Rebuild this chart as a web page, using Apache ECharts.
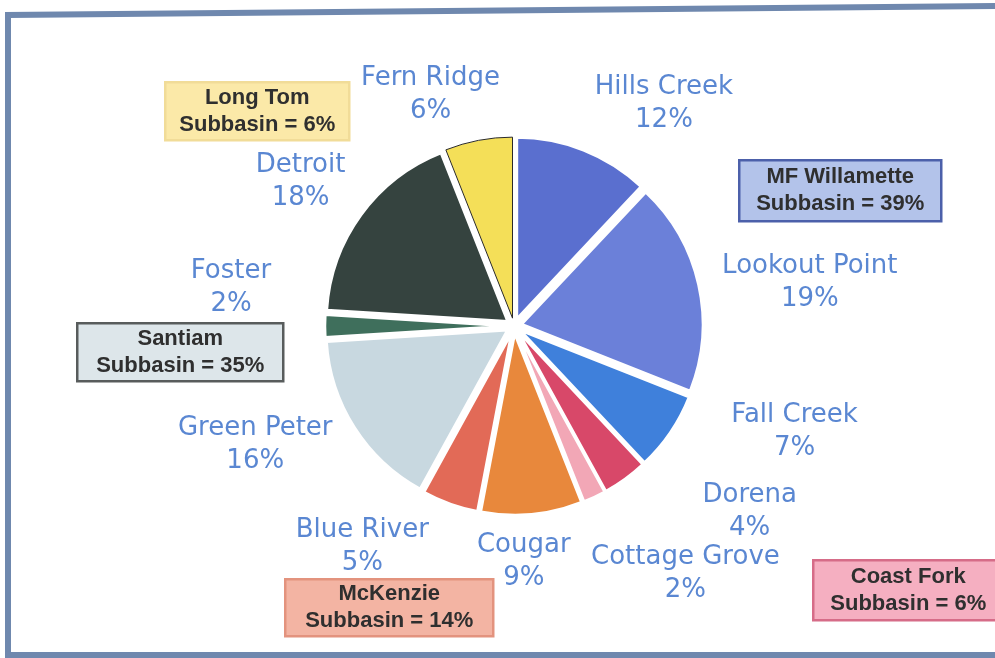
<!DOCTYPE html>
<html>
<head>
<meta charset="utf-8">
<script src="https://cdn.jsdelivr.net/npm/echarts@6/dist/echarts.min.js"></script>
<style>
  html, body { margin: 0; padding: 0; background: #fff; }
  #chart { width: 995px; height: 658px; }
</style>
</head>
<body>
<div id="chart"></div>
<script>
  // reservoirs, clockwise from 12 o'clock
  let reservoirs = ['Hills Creek', 'Lookout Point', 'Fall Creek', 'Dorena', 'Cottage Grove',
    'Cougar', 'Blue River', 'Green Peter', 'Foster', 'Detroit', 'Fern Ridge'];
  let shares = [12, 19, 7, 4, 2, 9, 5, 16, 2, 18, 6];
  let sliceColors = ['#5a6fcf', '#6b80d9', '#3f80db', '#d84869', '#f2a7b6',
    '#e8883c', '#e26a57', '#c8d8e0', '#3f6f5c', '#35433f', '#f4df58'];

  let subbasins = ['Long Tom', 'MF Willamette', 'Santiam', 'McKenzie', 'Coast Fork'];
  let subbasinShares = [6, 39, 35, 14, 6];

  // where each reservoir label sits (centre of the two-line label)
  let labelSpots = {
    'Hills Creek': [661, 111], 'Lookout Point': [802, 284], 'Fall Creek': [788, 427],
    'Dorena': [745, 505], 'Cottage Grove': [682, 567], 'Cougar': [523, 554],
    'Blue River': [365, 539], 'Green Peter': [262, 440], 'Foster': [239, 288],
    'Detroit': [307, 186], 'Fern Ridge': [432, 103]
  };

  // subbasin boxes: x, y, w, h, fill, stroke
  let boxStyles = [
    [164, 81, 184, 58, '#fbe9a8', '#f1dc98'],
    [738, 159, 202, 61, '#b3c3ea', '#4c60aa'],
    [76, 322, 206, 58, '#dde6ea', '#585c5c'],
    [284, 578, 208, 57, '#f3b4a3', '#e3937e'],
    [812, 559, 190, 60, '#f5afc1', '#d66c88']
  ];

  let dom = document.getElementById('chart');
  let myChart = echarts.init(dom);

  let pieData = reservoirs.map((name, i) => {
    let item = {
      name: name,
      value: shares[i],
      selected: true,
      itemStyle: { color: sliceColors[i] }
    };
    if (name === 'Fern Ridge') {
      item.itemStyle.borderColor = '#2b2b2b';
      item.itemStyle.borderWidth = 1;
    }
    return item;
  });

  let graphics = [
    {
      type: 'polyline',
      shape: { points: [[8, 658], [8, 15], [995, 6]] },
      style: { stroke: '#6f88ae', lineWidth: 6, fill: null },
      z: 10
    },
    {
      type: 'line',
      shape: { x1: 8, y1: 655, x2: 995, y2: 655 },
      style: { stroke: '#6f88ae', lineWidth: 6 },
      z: 10
    }
  ];
  subbasins.forEach((name, i) => {
    let b = boxStyles[i];
    graphics.push({
      type: 'group',
      left: b[0], top: b[1],
      z: 5,
      children: [
        {
          type: 'rect',
          shape: { x: 0, y: 0, width: b[2], height: b[3] },
          style: { fill: b[4], stroke: b[5], lineWidth: 2.5 }
        },
        {
          type: 'text',
          x: b[2] / 2, y: b[3] / 2,
          style: {
            text: name + '\nSubbasin = ' + subbasinShares[i] + '%',
            font: 'bold 22px "Liberation Sans", Arial, sans-serif',
            fill: '#2f2f2f',
            align: 'center',
            verticalAlign: 'middle',
            lineHeight: 27
          }
        }
      ]
    });
  });

  let option = {
    backgroundColor: '#ffffff',
    animation: false,
    graphic: graphics,
    series: [
      {
        type: 'pie',
        center: [514, 326],
        radius: 181,
        startAngle: 90,
        clockwise: true,
        selectedMode: 'multiple',
        selectedOffset: 8,
        avoidLabelOverlap: false,
        itemStyle: { borderColor: '#ffffff', borderWidth: 2.5 },
        emphasis: { disabled: true },
        label: {
          show: true,
          position: 'inside',
          formatter: '{b}\n{c}%',
          color: '#5a87d2',
          fontFamily: 'DejaVu Sans',
          fontSize: 26,
          lineHeight: 33
        },
        labelLine: { show: false },
        labelLayout: function (params) {
          let spot = labelSpots[reservoirs[params.dataIndex]];
          let r = params.labelRect;
          return {
            dx: spot[0] - (r.x + r.width / 2),
            dy: spot[1] - (r.y + r.height / 2)
          };
        },
        data: pieData
      }
    ]
  };
  myChart.setOption(option);
  window.addEventListener('resize', () => { myChart.resize() });
</script>
</body>
</html>
